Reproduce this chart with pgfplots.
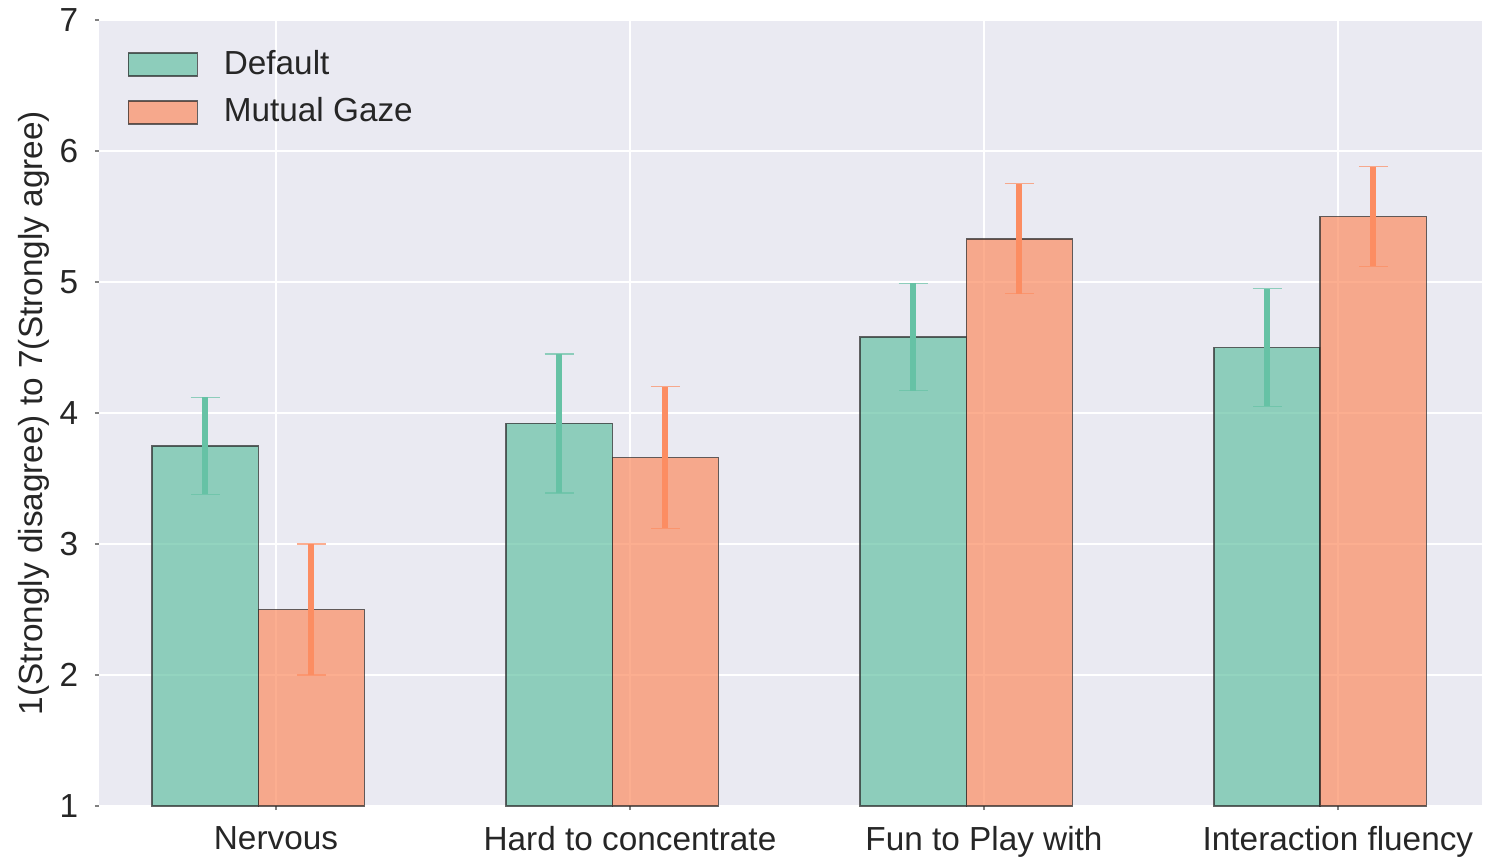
\documentclass[border=0pt]{standalone}
\usepackage{pgfplots}
\pgfplotsset{compat=1.18}
\usepackage{fontspec}
\setmainfont{Liberation Sans}
\definecolor{bg}{HTML}{EAEAF2}
\definecolor{cg}{HTML}{66C2A5}
\definecolor{co}{HTML}{FC8D62}
\definecolor{txt}{HTML}{262626}
\pgfplotsset{barlegend/.style={legend image code/.code={\draw[##1] (0pt,-3.45pt) rectangle (20.7pt,3.45pt);}}}
\begin{document}
\begin{tikzpicture}
\path[use as bounding box] (-29.7pt,-15.9pt) rectangle (419.4pt,241.8pt);
\begin{axis}[
  at={(0,0)}, anchor=south west,
  scale only axis, width=414.9pt, height=235.8pt,
  xmin=-0.5, xmax=3.407, ymin=1, ymax=7,
  xtick={0,1,2,3},
  xticklabels={Nervous,Hard to concentrate,Fun to Play with,Interaction fluency},
  ytick={1,2,3,4,5,6,7},
  grid=major, major grid style={white, line width=0.7pt},
  axis background/.style={fill=bg},
  axis line style={draw=none},
  tick style={gray, line width=0.5pt}, major tick length=1.2pt, tick align=outside,
  xtick pos=left, ytick pos=left,
  tick label style={font=\fontsize{10}{12}\selectfont, text=txt},
  /pgf/number format/assume math mode=true,
  yticklabel style={xshift=-1.5pt},
  xticklabel style={yshift=-1.5pt},
  ylabel={1(Strongly disagree) to 7(Strongly agree)},
  every axis y label/.style={at={(axis description cs:0,0.5)}, xshift=-19.5pt, rotate=90, anchor=center, font=\fontsize{10}{12}\selectfont, text=txt},
  legend style={at={(axis description cs:0,1)}, anchor=north west, xshift=5.4pt, yshift=-4.8pt, draw=none, fill=none, font=\fontsize{10}{12}\selectfont, text=txt, row sep=1.6pt,
    /tikz/every odd column/.append style={column sep=5.7pt}},
  legend cell align=left,
]
\addplot[ybar, bar width=0.3, bar shift=-0.2, fill=cg, fill opacity=0.7, draw=txt, draw opacity=0.7, line width=0.45pt, barlegend]
  coordinates {(0,3.75) (1,3.92) (2,4.58) (3,4.50)};
\addlegendentry{Default}
\addplot[forget plot, draw=none, mark=none,
  error bars/.cd, y dir=both, y explicit,
  error bar style={line width=1.8pt, draw=cg},
  error mark options={rotate=90, mark size=4.35pt, line width=0.4pt, draw=cg, opacity=0.7}]
  coordinates {(-0.2,3.75) +- (0,0.37) (0.8,3.92) +- (0,0.53) (1.8,4.58) +- (0,0.41) (2.8,4.50) +- (0,0.45)};
\addplot[ybar, bar width=0.3, bar shift=0.1, fill=co, fill opacity=0.7, draw=txt, draw opacity=0.7, line width=0.45pt, barlegend]
  coordinates {(0,2.50) (1,3.66) (2,5.33) (3,5.50)};
\addlegendentry{Mutual Gaze}
\addplot[forget plot, draw=none, mark=none,
  error bars/.cd, y dir=both, y explicit,
  error bar style={line width=1.8pt, draw=co},
  error mark options={rotate=90, mark size=4.35pt, line width=0.4pt, draw=co, opacity=0.7}]
  coordinates {(0.1,2.50) +- (0,0.50) (1.1,3.66) +- (0,0.54) (2.1,5.33) +- (0,0.42) (3.1,5.50) +- (0,0.38)};
\end{axis}
\end{tikzpicture}
\end{document}
